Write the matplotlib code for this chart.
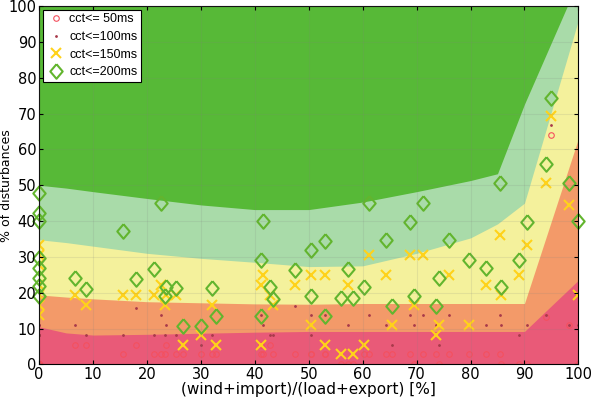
import numpy as np
import matplotlib.pyplot as plt

plt.rcParams['font.family'] = ['DejaVu Sans']

# boundaries of the coloured bands (in % of disturbances)
x_band = [0, 5, 10, 20, 30, 40, 50, 60, 70, 80, 85, 90, 100]
red_top = [10.5, 8.8, 8.2, 8.4, 8.7, 9.0, 9.2, 9.2, 9.2, 9.2, 9.2, 9.2, 23.5]
orange_top = [19.4, 18.8, 18.3, 17.5, 17.2, 16.9, 16.8, 17.0, 17.0, 17.0, 17.0, 17.0, 63.0]
yellow_top = [34.8, 34.0, 33.0, 31.0, 29.6, 28.5, 27.3, 27.5, 31.0, 35.3, 39.2, 45.0, 96.0]
pale_top = [50.0, 49.2, 48.2, 46.3, 44.5, 43.2, 43.2, 45.3, 48.2, 51.3, 53.2, 72.6, 107.0]

# scenarios
share = [0, 0, 0, 0, 0, 0, 0, 0, 6.7, 8.7, 15.5, 18, 21.4, 22.6, 23.3, 23.5, 25.4, 26.6,
         30.1, 32, 32.8, 41.1, 41.2, 41.5, 42.8, 43.4, 47.4, 50.5, 50.5, 53.1, 53.1, 56,
         57.3, 58.2, 60.2, 61.1, 64.4, 65.4, 68.8, 69.6, 71.2, 73.6, 74.1, 76.1, 79.7,
         82.9, 85.4, 85.7, 88.9, 90.4, 94, 94.9, 98.3, 100]
cct200 = [47.9, 42.3, 39.9, 29.7, 26.9, 24.1, 21.8, 19.0, 24.1, 21.0, 37.1, 23.8, 26.6, 45.1,
          19.0, 21.5, 21.3, 10.8, 10.8, 21.3, 13.4, 29.2, 13.4, 39.9, 21.5, 18.2, 26.4, 32.0,
          19.0, 34.3, 13.4, 18.5, 26.6, 18.5, 21.5, 45.1, 34.6, 16.2, 39.6, 19.0, 45.1, 16.4,
          24.1, 34.8, 29.2, 26.9, 50.7, 21.5, 29.2, 39.6, 55.8, 74.2, 50.7, 39.9]
cct150 = [33.3, 30.6, 27.8, 22.2, 19.4, 16.7, 16.7, 13.9, 19.4, 16.7, 19.4, 19.4, 19.4, 22.2,
          16.7, 19.4, 19.4, 5.5, 8.3, 16.7, 5.5, 22.2, 5.5, 25.0, 19.4, 16.7, 22.2, 25.0,
          11.1, 25.0, 5.5, 2.8, 22.2, 2.8, 5.5, 30.6, 25.0, 11.1, 30.6, 16.7, 30.6, 8.3,
          11.1, 25.0, 11.1, 22.2, 36.1, 19.4, 25.0, 33.3, 50.5, 69.4, 44.4, 19.4]
cct100 = [16.7, 13.9, 13.9, 11.1, 11.1, 8.3, 8.3, 8.3, 11.1, 8.3, 8.3, 15.7, 8.3, 13.9,
          8.3, 11.1, 8.3, 5.5, 5.5, 8.3, 5.5, 13.9, 5.5, 11.1, 8.3, 8.3, 16.2, 13.9,
          8.3, 13.9, 5.5, 2.8, 11.0, 2.8, 5.5, 13.9, 11.1, 5.5, 13.9, 11.1, 13.9, 11.1,
          5.5, 13.9, 11.1, 11.1, 13.9, 11.1, 8.3, 11.1, 13.9, 66.7, 11.1, 11.1]
cct50 = [0, 0, 0, 0, 0, 0, 0, 0, 5.5, 5.5, 2.8, 5.5, 2.8, 2.8, 2.8, 5.5, 2.8, 2.8,
         2.8, 2.8, 2.8, 2.8, 5.5, 2.8, 5.5, 2.8, 2.8, 2.8, 2.8, 2.8, 2.8, 0,
         0, 0, 2.8, 2.8, 2.8, 2.8, 2.8, 0, 2.8, 2.8, 0, 2.8, 2.8,
         2.8, 2.8, 0, 0, 0, 13.2, 63.9, 11.1, 0]

# slightly narrow diamond, like the original markers
diamond = [(0, 1), (0.85, 0), (0, -1), (-0.85, 0), (0, 1)]

fig = plt.figure(figsize=(5.92, 3.97), dpi=100)
ax = fig.add_axes([0.066, 0.082, 0.911, 0.903])
ax.set_facecolor('#57b937')

ax.fill_between(x_band, 0, pale_top, color='#a9dba9', lw=0)
ax.fill_between(x_band, 0, yellow_top, color='#f4f19c', lw=0)
ax.fill_between(x_band, 0, orange_top, color='#f39a69', lw=0)
ax.fill_between(x_band, 0, red_top, color='#e95a78', lw=0)

ax.plot(share, cct50, 'o', ls='none', ms=4, mfc='none', mec='#f4505e', mew=0.8,
        label='cct<= 50ms')
ax.plot(share, cct100, '.', ls='none', ms=2, color='#a83a4a', label='cct<=100ms')
ax.plot(share, cct150, 'x', ls='none', ms=6.5, mew=1.5, color='#ffd21a', label='cct<=150ms')
ax.plot(share, cct200, marker=diamond, ls='none', ms=10.5, mfc='none', mec='#62b52e',
        mew=1.5, label='cct<=200ms', clip_on=False)

ax.set_xlim(0, 100)
ax.set_ylim(0, 100)
ax.set_xticks(np.arange(0, 101, 10))
ax.set_yticks(np.arange(0, 101, 10))
ax.tick_params(direction='in', top=True, right=True, labelsize=10.5, length=3, pad=2)
ax.grid(True, color='#808080', alpha=0.15, lw=0.8)
ax.set_axisbelow(False)

ax.set_xlabel('(wind+import)/(load+export) [%]', fontsize=11, labelpad=0)
ax.set_ylabel('% of disturbances', fontsize=9)
ax.yaxis.set_label_coords(-0.048, 0.5)

leg = ax.legend(loc='upper left', prop={'family': 'Liberation Sans', 'size': 9},
                frameon=True, fancybox=False, borderaxespad=0.3, handletextpad=0.3,
                labelspacing=0.45, handlelength=1.5, borderpad=0.3)
leg.get_frame().set_edgecolor('black')
leg.get_frame().set_linewidth(0.8)
leg.get_frame().set_alpha(1)

plt.savefig('out.png', dpi=100)
